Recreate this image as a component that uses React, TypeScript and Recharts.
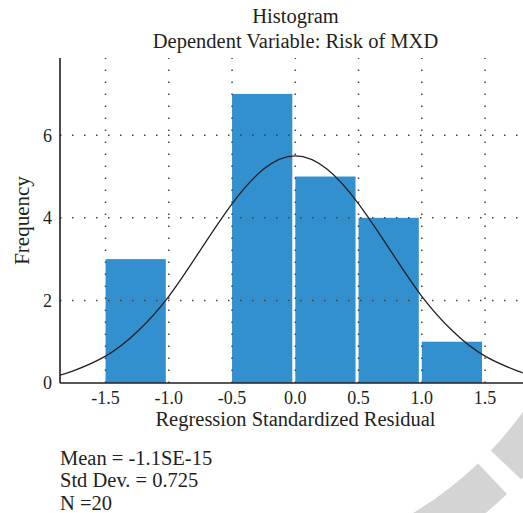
import React from "react";
import {
  ComposedChart,
  Line,
  XAxis,
  YAxis,
  ReferenceArea,
  ReferenceLine,
} from "recharts";

const binStarts = [-1.5, -1.0, -0.5, 0.0, 0.5, 1.0];
const binEnds = [-1.0, -0.5, 0.0, 0.5, 1.0, 1.5];
const binCounts = [3, 0, 7, 5, 4, 1];

const curveX = [-1.86, -1.75, -1.5, -1.25, -1.0, -0.75, -0.5, -0.25, 0, 0.25, 0.5, 0.75, 1.0, 1.25, 1.5, 1.75, 1.8];
const curveY = [0.19, 0.3, 0.65, 1.24, 2.1, 3.22, 4.34, 5.18, 5.5, 5.18, 4.34, 3.22, 2.1, 1.24, 0.65, 0.3, 0.25];

const xTicks = [-1.5, -1.0, -0.5, 0.0, 0.5, 1.0, 1.5];
const yTicks = [0, 2, 4, 6];
const yGridLines = [2, 4, 6];

const titleLines = ["Histogram", "Dependent Variable: Risk of MXD"];
const statLines = ["Mean = -1.1SE-15", "Std Dev. = 0.725", "N =20"];

const curveData = curveX.map((x, i) => ({ x, y: curveY[i] }));

const FONT = "'Liberation Serif', 'DejaVu Serif', serif";
const BAR_COLOR = "#3390cf";
const TEXT_COLOR = "#231f20";
const GRID_COLOR = "#444";

function sectorPath(cx: number, cy: number, r0: number, r1: number, a0: number, a1: number) {
  const rad = (a: number) => (a * Math.PI) / 180;
  const p = (r: number, a: number) => [cx + r * Math.cos(rad(a)), cy + r * Math.sin(rad(a))];
  const [x1, y1] = p(r1, a0);
  const [x2, y2] = p(r1, a1);
  const [x3, y3] = p(r0, a1);
  const [x4, y4] = p(r0, a0);
  return `M${x1},${y1} A${r1},${r1} 0 0 1 ${x2},${y2} L${x3},${y3} A${r0},${r0} 0 0 0 ${x4},${y4} Z`;
}

const BarShape = (props: any) => {
  const { x, y, width, height } = props;
  if (width == null || height == null) return null;
  return <rect x={x} y={y} width={Math.max(0, width - 3)} height={height} fill={BAR_COLOR} />;
};

export default function App() {
  return (
    <div
      style={{
        position: "absolute",
        left: 0,
        top: 0,
        width: 523,
        height: 513,
        background: "#fff",
        fontFamily: FONT,
        color: TEXT_COLOR,
        overflow: "hidden",
      }}
    >
      <svg
        width={523}
        height={513}
        style={{ position: "absolute", left: 0, top: 0 }}
      >
        <path d={sectorPath(230, 204, 359, 401, 15, 43.4)} fill="#d4d4d4" />
        <path d={sectorPath(230, 204, 359, 401, 46.3, 75)} fill="#d4d4d4" />
      </svg>
      <div
        style={{
          position: "absolute",
          left: 0,
          width: 523,
          top: 4,
          textAlign: "center",
          fontSize: 20.5,
          lineHeight: "25px",
          paddingLeft: 68,
          boxSizing: "border-box",
        }}
      >
        {titleLines.map((t) => (
          <div key={t}>{t}</div>
        ))}
      </div>
      <ComposedChart
        width={523}
        height={513}
        data={curveData}
        margin={{ top: 58, right: 0, left: 0, bottom: 84 }}
        style={{ position: "absolute", left: 0, top: 0, fontFamily: FONT }}
      >
        <XAxis
          dataKey="x"
          type="number"
          domain={[-1.86, 1.8]}
          ticks={xTicks}
          tickFormatter={(v: number) => v.toFixed(1)}
          allowDataOverflow
          height={46}
          tickLine={false}
          axisLine={{ stroke: "#231f20", strokeWidth: 1.6 }}
          tick={{ fill: TEXT_COLOR, fontSize: 18, fontFamily: FONT }}
          label={{
            value: "Regression Standardized Residual",
            position: "insideBottom",
            offset: 3,
            dx: 4,
            fill: TEXT_COLOR,
            fontSize: 20.5,
            fontFamily: FONT,
          }}
        />
        <YAxis
          type="number"
          domain={[0, 7.87]}
          ticks={yTicks}
          allowDataOverflow
          width={60}
          tickLine={false}
          axisLine={{ stroke: "#231f20", strokeWidth: 1.6 }}
          tick={{ fill: TEXT_COLOR, fontSize: 18, fontFamily: FONT }}
          label={{
            value: "Frequency",
            angle: -90,
            position: "insideLeft",
            offset: 22,
            fill: TEXT_COLOR,
            fontSize: 21,
            fontFamily: FONT,
            style: { textAnchor: "middle" },
          }}
        />
        {xTicks.map((t) => (
          <ReferenceLine
            key={`vx${t}`}
            x={t}
            stroke={GRID_COLOR}
            strokeWidth={1.5}
            strokeDasharray="1.5 10.5"
          />
        ))}
        {yGridLines.map((t) => (
          <ReferenceLine
            key={`hy${t}`}
            y={t}
            stroke={GRID_COLOR}
            strokeWidth={1.5}
            strokeDasharray="1.5 10.5"
          />
        ))}
        {binStarts.map((s, i) =>
          binCounts[i] > 0 ? (
            <ReferenceArea
              key={s}
              x1={s}
              x2={binEnds[i]}
              y1={0}
              y2={binCounts[i]}
              fill={BAR_COLOR}
              fillOpacity={1}
              shape={BarShape}
            />
          ) : null
        )}
        <Line
          type="natural"
          dataKey="y"
          stroke="#231f20"
          strokeWidth={1.3}
          dot={false}
          activeDot={false}
          isAnimationActive={false}
        />
      </ComposedChart>
      <div
        style={{
          position: "absolute",
          left: 60,
          top: 446.5,
          fontSize: 20.5,
          lineHeight: "22.5px",
        }}
      >
        {statLines.map((t) => (
          <div key={t}>{t}</div>
        ))}
      </div>
    </div>
  );
}
